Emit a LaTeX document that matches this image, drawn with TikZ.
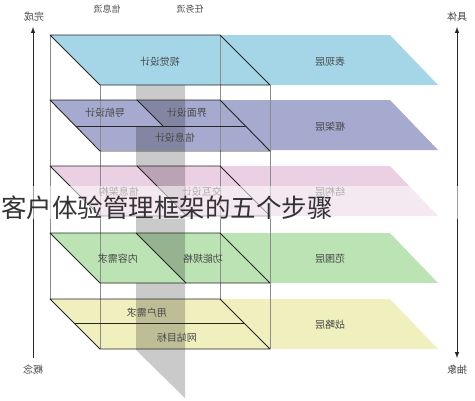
\documentclass[tikz,border=0pt]{standalone}
\usepackage{fontspec}
\usepackage{graphicx}
\setmainfont{Noto Sans CJK SC}
\newcommand{\mirror}[1]{\scalebox{-1}[1]{#1}}
\definecolor{surfblue}{HTML}{A4D6E8}
\definecolor{skellav}{HTML}{A5AACE}
\definecolor{strpink}{HTML}{EBCFE2}
\definecolor{scopegreen}{HTML}{BCE3B4}
\definecolor{stratyell}{HTML}{EFF0BE}
\definecolor{planegray}{HTML}{CACACA}
\definecolor{textgray}{HTML}{474747}

\begin{document}
\begin{tikzpicture}[x=1pt,y=-1pt]
    \tikzstyle{edge}=[draw=black!85,line width=0.9pt,line join=round]
    \tikzstyle{frame}=[draw=black!45,line width=0.5pt]
    \tikzstyle{axis}=[draw=black!85,line width=1pt]
    \tikzstyle{lbl}=[text=textgray,font=\fontsize{10}{12}\selectfont,inner sep=0pt]
    \useasboundingbox (0,0) rectangle (475,400);

        % layer bodies, the surface one comes after the gray plane
        \foreach \t/\col in {100/skellav, 166/strpink, 233/scopegreen, 299/stratyell}
            \fill[\col] (50,\t) -- (390,\t) -- (438,\t+50) -- (100,\t+50) -- cycle;

        % gray dividing plane
        \fill[planegray,blend mode=multiply] (136,35) -- (185,85) -- (185,398) -- (136,350) -- cycle;

        \fill[surfblue] (50,35) -- (390,35) -- (438,85) -- (100,85) -- cycle;
        % left pieces that lie in front of the plane
        \fill[skellav] (50,100) -- (137,100) -- (163,126) -- (76,126) -- cycle;
        \fill[strpink] (50,166) -- (137,166) -- (187,216) -- (100,216) -- cycle;
        \fill[scopegreen] (50,233) -- (136,233) -- (186,283) -- (100,283) -- cycle;

        % wire frame
        \foreach \x/\ya/\yb in {50/35/299, 220/35/299, 100/85/349, 270/85/349}
            \draw[frame] (\x,\ya) -- (\x,\yb);

        % outlines of the left halves
        \foreach \t/\h in {35/50, 100/51, 166/50, 233/50, 299/50}
            \draw[edge] (50,\t) -- (220,\t) -- (270,\t+\h) -- (100,\t+\h) -- cycle;
        \draw[edge] (76,126) -- (246,126);
        \draw[edge] (137,100) -- (163,126);
        \draw[edge] (137,166) -- (187,216);
        \draw[edge] (136,233) -- (186,283);
        \draw[edge] (74,323) -- (244,323);

        % texts of the planes
        \node[lbl] (visual) at (160,62) {\mirror{视觉设计}};
        \node[lbl] (surface) at (330,62) {\mirror{表现层}};
        \node[lbl] (nav) at (105,113) {\mirror{导航设计}};
        \node[lbl] (iface) at (187,113) {\mirror{界面设计}};
        \node[lbl] (infod) at (175,138) {\mirror{信息设计}};
        \node[lbl] (skeleton) at (330,127) {\mirror{框架层}};
        \node[lbl] (infoarch) at (119,192) {\mirror{信息架构}};
        \node[lbl] (interact) at (202,192) {\mirror{交互设计}};
        \node[lbl] (structure) at (330,192) {\mirror{结构层}};
        \node[lbl] (content) at (118,259) {\mirror{内容需求}};
        \node[lbl] (funcspec) at (203,259) {\mirror{功能规格}};
        \node[lbl] (scope) at (330,259) {\mirror{范围层}};
        \node[lbl] (userneed) at (147,313) {\mirror{用户需求}};
        \node[lbl] (siteobj) at (177,338) {\mirror{网站目标}};
        \node[lbl] (strategy) at (330,325) {\mirror{战略层}};

        % column heads and axes
        \node[lbl,font=\fontsize{9}{11}\selectfont] (infoflow) at (107,9) {\mirror{信息流}};
        \node[lbl,font=\fontsize{9}{11}\selectfont] (taskflow) at (190,9) {\mirror{任务流}};
        \node[lbl] (complete) at (34,17) {\mirror{完成}};
        \node[lbl] (concept) at (33,370) {\mirror{概念}};
        \node[lbl] (concrete) at (457,17) {\mirror{具体}};
        \node[lbl] (abstract) at (457,370) {\mirror{抽象}};
        \coordinate (L-top) at (33,27);
        \coordinate (L-bot) at (33,358);
        \coordinate (R-top) at (457,27);
        \coordinate (R-bot) at (457,358);
        \draw[axis,-latex] (L-bot) -- (L-top);
        \draw[axis,latex-latex] (R-bot) -- (R-top);

        % caption laid over the picture
        \fill[white,opacity=0.55] (0,186) rectangle (475,219);
        \node[anchor=west,inner sep=0pt,text=black!80,font=\fontsize{25.5}{28}\selectfont] (caption) at (1,208) {客户体验管理框架的五个步骤};
\end{tikzpicture}
\end{document}
